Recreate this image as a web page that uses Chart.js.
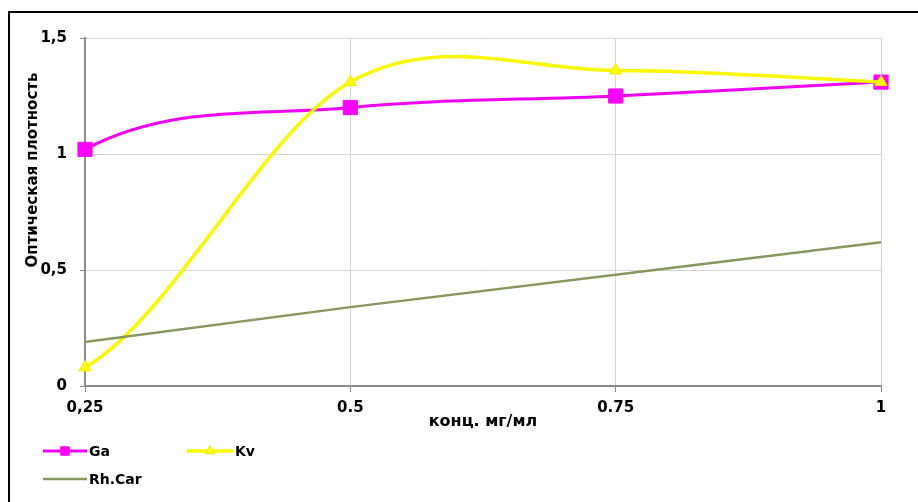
<!DOCTYPE html>
<html>
<head>
<meta charset="utf-8">
<script src="https://cdn.jsdelivr.net/npm/chart.js@4.4.1/dist/chart.umd.min.js"></script>
<style>
    html, body { margin: 0; padding: 0; background: #fff; overflow: hidden; }
    #wrap { position: relative; width: 918px; height: 502px; }
    #frame {
        position: absolute; left: 8px; top: 11px; width: 960px; height: 560px;
        border-left: 2px solid #000; border-top: 2px solid #000; pointer-events: none;
    }
</style>
</head>
<body>
<div id="wrap">
    <canvas id="densityChart" width="918" height="502"></canvas>
    <div id="frame"></div>
</div>
<script>
// Концентрации (ось X) и оптическая плотность по образцам
const concLabels = ['0,25', '0.5', '0.75', '1'];
const gaValues = [1.02, 1.20, 1.25, 1.31];
const kvValues = [0.08, 1.31, 1.36, 1.31];
const rhCarValues = [0.19, 0.34, 0.48, 0.62];
const yTickLabels = ['0', '0,5', '1', '1,5'];

const yTitle = 'Оптическая плотность';
const xTitle = 'конц. мг/мл';
const FONT = '"DejaVu Sans", sans-serif';

// Сглаживание как в Excel: Catmull-Rom (1/6), перед первой точкой - нулевое значение
const excelSmooth = {
    id: 'excelSmooth',
    beforeDatasetDraw(chart, args) {
        const ds = chart.data.datasets[args.index];
        if (!ds.smooth) return;
        const line = args.meta.dataset;
        const pts = args.meta.data;
        const zeroY = chart.scales.y.getPixelForValue(0);
        line.updateControlPoints(chart.chartArea, 'x');
        for (let i = 0; i < pts.length; i++) {
            const p = pts[i];
            const prev = i > 0 ? pts[i - 1] : { x: p.x - (pts[1].x - p.x), y: zeroY };
            const next = i < pts.length - 1 ? pts[i + 1] : p;
            const dx = (next.x - prev.x) / 6;
            const dy = (next.y - prev.y) / 6;
            p.cp1x = p.x - dx; p.cp1y = p.y - dy;
            p.cp2x = p.x + dx; p.cp2y = p.y + dy;
        }
        line._path = undefined;
    }
};

// Подписи осей и легенда рисуются вручную
const chartText = {
    id: 'chartText',
    afterDraw(chart) {
        const ctx = chart.ctx;
        const ds = chart.data.datasets;
        ctx.save();
        ctx.fillStyle = '#000';
        ctx.textBaseline = 'middle';

        ctx.font = 'bold 15px ' + FONT;
        ctx.textAlign = 'center';
        ctx.save();
        ctx.translate(33, 170);
        ctx.rotate(-Math.PI / 2);
        ctx.fillText(yTitle, 0, 0);
        ctx.restore();

        ctx.font = 'bold 16px ' + FONT;
        ctx.fillText(xTitle, (chart.chartArea.left + chart.chartArea.right) / 2, 422);

        // легенда: две строки слева внизу
        const items = [
            { i: 0, x: 43, y: 451, w: 44, r: 6 },
            { i: 1, x: 187, y: 451, w: 46, r: 5.5 },
            { i: 2, x: 43, y: 479, w: 44, r: 0 }
        ];
        ctx.textAlign = 'left';
        ctx.font = 'bold 14px ' + FONT;
        items.forEach(function (it) {
            const d = ds[it.i];
            ctx.strokeStyle = d.borderColor;
            ctx.lineWidth = d.borderWidth;
            ctx.beginPath();
            ctx.moveTo(it.x, it.y);
            ctx.lineTo(it.x + it.w, it.y);
            ctx.stroke();
            if (it.r > 0) {
                ctx.fillStyle = d.pointBackgroundColor;
                ctx.strokeStyle = d.pointBorderColor;
                ctx.lineWidth = 1;
                Chart.helpers.drawPoint(ctx, { pointStyle: d.pointStyle, radius: it.r, rotation: 0, borderWidth: 1 },
                    it.x + it.w / 2, it.y);
            }
            ctx.fillStyle = '#000';
            ctx.fillText(d.label, it.x + it.w + 2, it.y + 1);
        });
        ctx.restore();
    }
};

const ctx = document.getElementById('densityChart').getContext('2d');
new Chart(ctx, {
    type: 'line',
    data: {
        labels: concLabels,
        datasets: [
            {
                label: 'Ga',
                data: gaValues,
                borderColor: '#f000f0',
                borderWidth: 3,
                pointStyle: 'rect',
                pointRadius: 10,
                pointBackgroundColor: '#ff00ff',
                pointBorderColor: '#ff00ff',
                pointBorderWidth: 1,
                tension: 0.4,
                smooth: true,
                order: 2
            },
            {
                label: 'Kv',
                data: kvValues,
                borderColor: '#f8f800',
                borderWidth: 3.5,
                pointStyle: 'triangle',
                pointRadius: 7,
                pointBackgroundColor: '#ffff00',
                pointBorderColor: '#f0e800',
                pointBorderWidth: 1,
                tension: 0.4,
                smooth: true,
                order: 1
            },
            {
                label: 'Rh.Car',
                data: rhCarValues,
                borderColor: '#86985e',
                borderWidth: 2.5,
                pointRadius: 0,
                tension: 0,
                order: 0
            }
        ]
    },
    options: {
        responsive: false,
        animation: false,
        devicePixelRatio: 1,
        layout: { padding: { left: 0, top: 38, right: 37, bottom: 0 } },
        plugins: {
            legend: { display: false },
            tooltip: { enabled: false }
        },
        scales: {
            x: {
                type: 'category',
                offset: false,
                grid: { color: '#d4d4d4', offset: false, tickLength: 6, tickColor: '#8a8a8a' },
                border: { color: '#8c8c8c', width: 2 },
                ticks: {
                    color: '#000', padding: 7, maxRotation: 0, autoSkip: false,
                    font: { family: FONT, weight: 'bold', size: 15 }
                },
                afterFit(scale) { scale.height = 116; }
            },
            y: {
                min: 0,
                max: 1.5,
                grid: { color: '#d4d4d4', tickLength: 5, tickColor: '#8a8a8a' },
                border: { color: '#8c8c8c', width: 2 },
                ticks: {
                    stepSize: 0.5, color: '#000', padding: 13,
                    font: { family: FONT, weight: 'bold', size: 15 },
                    callback: function (value, index) { return yTickLabels[index]; }
                },
                afterFit(scale) { scale.width = 85; }
            }
        }
    },
    plugins: [excelSmooth, chartText]
});
</script>
</body>
</html>
